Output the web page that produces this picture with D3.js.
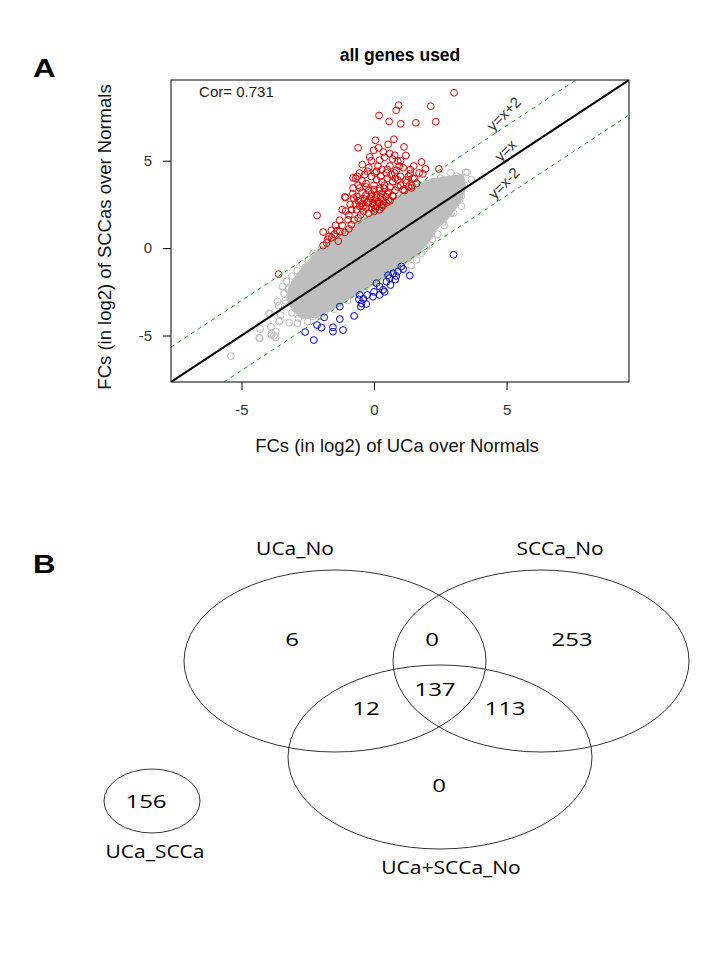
<!DOCTYPE html>
<html><head><meta charset="utf-8">
<script src="https://cdn.jsdelivr.net/npm/d3@7"></script>
<style>body{margin:0;background:#fff}</style>
</head><body>
<svg id="c" width="720" height="960"></svg>
<script>
// ---------------- DATA ----------------
const axisDomain = [-7.66, 9.62];
const xTicks = [-5, 0, 5];
const yTicks = [-5, 0, 5];
const plotTitle = "all genes used";
const xTitle = "FCs (in log2) of UCa over Normals";
const yTitle = "FCs (in log2) of SCCas over Normals";
const corText = "Cor= 0.731";

// outline of the dense (saturated) cloud of grey points
const grayCloud = [[-3.2,-2.9],[-3.0,-3.5],[-2.7,-3.9],[-2.2,-3.85],[-1.5,-3.3],[-0.7,-2.55],[0.0,-1.95],[0.7,-1.25],[1.2,-0.75],[1.6,-0.3],[2.0,0.4],[2.3,1.15],[2.75,1.8],[3.2,2.7],[3.4,3.5],[3.3,4.1],[2.85,4.0],[2.2,3.85],[1.6,3.5],[1.0,2.95],[0.4,2.35],[-0.3,1.65],[-1.0,0.95],[-1.7,0.2],[-2.2,-0.4],[-2.6,-1.1],[-2.9,-1.7],[-3.15,-2.3]];

const grayPoints = [[-5.40,-6.18],[-4.33,-5.13],[-4.30,-4.63],[-3.89,-4.50],[-3.87,-4.88],[-3.71,-4.78],[-3.71,-5.11],[-3.92,-3.77],[-3.64,-3.06],[-3.33,-3.16],[-3.20,-2.29],[-3.58,-4.21],[-3.20,-4.27],[-2.89,-4.30],[-3.52,-3.83],[-3.97,-3.73],[-3.77,-5.01],[-3.55,-4.15],[-3.24,-2.35],[-2.46,-0.67],[-3.0,-2.0],[-2.8,-1.6],[-2.6,-1.1],[-3.4,-2.6],[-3.6,-3.3],[-2.7,-3.8],[-2.5,-4.2],[-2.0,-3.9],[-1.5,-3.5],[-1.0,-3.0],[-4.31,-5.16],[-3.87,-4.97],[-2.9,-1.3],[-2.7,-0.9],[-3.3,-1.9],[-2.3,-0.3],[-2.0,-0.1],[-3.35,-3.0],[-3.1,-3.7],[-2.85,-4.0],[-3.45,-2.2],[-3.1,-1.6],
[3.46,4.34],[3.11,4.11],[3.17,3.73],[3.11,3.44],[2.98,3.25],[3.23,2.77],[2.48,1.81],[2.29,1.24],[2.10,0.67],[1.97,0.09],[1.79,-0.29],[1.60,-0.67],[2.16,3.25],[2.35,3.44],[3.51,4.34],[3.67,3.92],[2.60,3.25],[2.8,3.9],[2.5,4.0],[2.0,3.7],[2.7,2.2],[2.9,2.0],[2.6,1.5],[2.2,0.5],[1.4,-1.0],[1.2,-1.3],[3.3,3.0],[3.4,3.6],[1.9,-0.05],[2.1,0.2],[2.4,0.8],[2.65,1.3],[3.0,2.0],[3.3,2.4],[2.9,4.3],
[-1.6,0.2],[-1.3,0.6],[-1.0,0.9],[-0.5,1.4],[0.0,1.9],[0.5,2.3],[1.0,2.8],[1.5,3.3],
[-0.8,-2.6],[-0.3,-2.2],[0.3,-1.6],[0.8,-1.1],[1.0,-0.7],[-1.8,-3.5],[-2.3,-3.9]];

const redPoints = [[3.02,8.89],[0.93,8.18],[0.84,7.89],[2.14,8.12],[0.19,7.59],[0.57,7.25],[1.01,7.11],[1.58,7.17],[2.33,7.23],
[-0.60,5.74],[0.75,6.23],[0.05,6.17],[0.53,5.94],[1.13,5.79],[0.17,5.74],[-0.01,5.60],[0.59,5.41],[0.78,5.31],[-0.16,5.22],[0.21,5.03],[0.90,4.97],[-0.44,4.78],[1.79,4.93],[1.94,4.53],[1.37,4.49],[2.45,4.53],[1.37,4.26],[1.53,3.99],[-0.69,3.99],[-0.79,3.44],[-1.10,2.93],[-0.77,2.87],[1.84,4.25],[1.47,3.99],[1.43,3.57],[-0.63,4.11],
[-2.15,1.87],[-1.92,0.92],[-1.61,1.01],[-1.70,0.67],[-1.29,0.95],[-1.08,2.89],[-1.07,2.12],[-0.98,1.62],[-0.85,1.34],[-0.66,2.20],[-0.79,4.02],[-0.54,3.44],[-0.35,4.21],[0.03,4.30],[0.47,4.30],[0.78,4.30],[1.22,3.73],[1.41,3.44],[1.09,3.34],[0.72,2.96],[0.47,2.58],[-0.60,1.72],[-0.41,2.39],[-3.60,-1.49],[-1.79,0.29],[-1.92,0.15],
[-0.3,3.7],[0.1,3.9],[0.4,3.6],[0.7,3.8],[1.0,4.1],[-0.2,4.6],[0.3,4.5],[0.6,4.7],[0.9,3.5],[1.2,3.9],[-0.45,3.2],[0.2,3.4],[0.55,3.2],[0.85,4.45],[0.4,5.2],[-0.1,5.0],[1.1,4.6],[0.25,4.1],[-0.6,3.6],[-0.9,2.5],[-1.3,1.6],[-1.45,1.3],[-1.2,2.2],[-1.6,0.6],[-1.35,0.4],[-1.1,0.9],[-0.95,1.1],[-0.75,1.6],[-0.5,1.9],[1.3,3.5],[1.6,3.7],
[-0.8,3.1],[-0.65,2.95],[-0.5,2.75],[-0.7,2.5],[-0.85,2.2],[-0.95,1.9],[-1.2,1.3],[-1.4,1.0],[-1.5,0.8],[-1.75,0.5],[-0.3,3.5],[0.0,3.6],[0.3,3.8],[0.6,3.5],[0.8,3.3],[1.0,3.6],[0.5,4.0],[0.8,4.0],[-0.1,4.1],[0.15,4.7],[0.5,4.5],[0.7,5.1],[1.0,5.0],[1.3,4.1],[1.7,4.3],[1.5,4.7],[1.2,5.3],[0.35,5.5],[0.9,3.9],[1.15,3.3],[-0.45,3.85],[-0.25,4.4],[0.65,4.2],[0.95,4.7],[0.1,4.4],[-0.55,4.3],
[-0.4,2.1],[-0.2,2.0],[0.0,2.1],[0.2,2.2],[0.35,2.45],[-0.3,2.3],[-0.1,2.3],[0.1,2.4],[0.3,2.5],[-0.45,2.55],[-0.25,2.6],[-0.05,2.55],[0.15,2.65],[0.35,2.7],[0.55,2.75],[-0.35,2.8],[-0.15,2.85],[0.05,2.8],[0.25,2.9],[0.45,2.95],[-0.3,3.05],[-0.1,3.1],[0.1,3.05],[0.3,3.15],[0.5,3.1],[-0.2,3.3],[0.0,3.35],[0.2,3.3],[0.4,3.4],[0.7,3.0],[0.6,2.7],[-0.55,2.4],[-0.6,2.7],[0.0,2.45],[0.1,2.9],[-0.2,2.7],[0.2,2.6],[-0.1,2.95],[0.3,2.35],[0.05,2.25]];

const bluePoints = [[3.00,-0.38],[1.35,-1.57],[1.03,-1.05],[0.90,-1.34],[0.72,-1.44],[0.59,-1.72],[0.47,-1.92],[0.62,-2.11],[0.21,-2.20],[0.34,-2.39],[0.21,-2.68],[-0.04,-2.78],[-0.26,-2.68],[-0.54,-2.68],[-0.57,-2.93],[-0.47,-3.16],[-0.29,-3.20],[-0.50,-3.35],[-1.29,-3.35],[-0.75,-3.88],[-1.29,-4.06],[-1.88,-3.96],[-2.15,-4.40],[-1.98,-4.55],[-1.55,-4.53],[-1.55,-4.78],[-1.17,-4.69],[-2.60,-4.80],[-2.27,-5.26],[0.84,-1.59],[0.53,-1.55],[0.09,-2.01],[1.1,-1.2],[0.8,-1.8],[0.4,-2.5],[-0.4,-2.9],[0.0,-2.5]];

const refIntercepts = [2, 0, -2];
const refLabels = ["y=x+2", "y=x", "y=x-2"];
const refLabelPos = [[4.89,7.70],[4.95,5.60],[4.89,3.73]];

const vennSetLabels = ["UCa_No", "SCCa_No", "UCa+SCCa_No", "UCa_SCCa"];
// regions: UCa only, UCa∩SCCa only, SCCa only, UCa∩both-No, all three, SCCa∩both-No, both-No only, UCa_SCCa
const vennRegionCounts = [6, 0, 253, 12, 137, 113, 0, 156];

// ---------------- LAYOUT ----------------
const svg = d3.select("#c");
svg.append("rect").attr("width",720).attr("height",960).attr("fill","#fff");
const L = 171, R = 629, T = 80, B = 382;
const x = d3.scaleLinear().domain(axisDomain).range([L, R]);
const y = d3.scaleLinear().domain(axisDomain).range([B, T]);
const arial = "'Liberation Sans', Arial, sans-serif";

function panelLetter(t, px, py){
  svg.append("text").attr("transform",`translate(${px},${py}) scale(1.2,1)`)
    .attr("font-family",arial).attr("font-weight","bold").attr("font-size",26)
    .attr("fill","#000").text(t);
}
panelLetter("A", 33, 77);
panelLetter("B", 33, 573);

svg.append("text").attr("x",400).attr("y",61).attr("text-anchor","middle")
  .attr("font-family",arial).attr("font-weight","bold").attr("font-size",17.5).text(plotTitle);

const defs = svg.append("defs");
defs.append("clipPath").attr("id","clip").append("rect")
  .attr("x",L).attr("y",T).attr("width",R-L).attr("height",B-T);
const plot = svg.append("g").attr("clip-path","url(#clip)");

plot.append("path").datum(grayCloud)
  .attr("d", d3.line().x(d=>x(d[0])).y(d=>y(d[1])).curve(d3.curveLinearClosed))
  .attr("fill","#bebebe").attr("stroke","#bebebe").attr("stroke-width",5).attr("stroke-linejoin","round");

function pts(data, color){
  plot.append("g").selectAll("circle").data(data).join("circle")
    .attr("cx",d=>x(d[0])).attr("cy",d=>y(d[1])).attr("r",3.4)
    .attr("fill","none").attr("stroke",color).attr("stroke-width",1);
}
pts(grayPoints, "#bebebe");
pts(redPoints, "#e00000");
pts(bluePoints, "#0000cc");

refIntercepts.forEach((b,i)=>{
  const x0 = Math.max(axisDomain[0], axisDomain[0]-b), x1 = Math.min(axisDomain[1], axisDomain[1]-b);
  plot.append("line").attr("x1",x(x0)).attr("y1",y(x0+b)).attr("x2",x(x1)).attr("y2",y(x1+b))
    .attr("stroke", b===0 ? "#000" : "#1fa31f")
    .attr("stroke-width", b===0 ? 2 : 1)
    .attr("stroke-dasharray", b===0 ? null : "4,4");
});
refLabels.forEach((t,i)=>{
  svg.append("text").attr("transform",`translate(${x(refLabelPos[i][0])},${y(refLabelPos[i][1])}) rotate(-45)`)
    .attr("text-anchor","middle").attr("dominant-baseline","central")
    .attr("font-family",arial).attr("font-size",15).attr("fill","#333").text(t);
});

svg.append("text").attr("x",x(-6.6)).attr("y",97).attr("font-family",arial)
  .attr("font-size",15).attr("fill","#222").text(corText);

svg.append("rect").attr("x",L).attr("y",T).attr("width",R-L).attr("height",B-T)
  .attr("fill","none").attr("stroke","#000").attr("stroke-width",1);

const xa = svg.append("g").attr("transform",`translate(0,${B})`)
  .call(d3.axisBottom(x).tickValues(xTicks).tickSize(8).tickPadding(14).tickFormat(d3.format("d")));
const ya = svg.append("g").attr("transform",`translate(${L},0)`)
  .call(d3.axisLeft(y).tickValues(yTicks).tickSize(8).tickPadding(11).tickFormat(d3.format("d")));
[xa,ya].forEach(a=>{
  a.select(".domain").remove();
  a.selectAll("text").attr("font-family",arial).attr("font-size",15).attr("fill","#333");
  a.selectAll("line").attr("stroke","#000");
});
ya.selectAll("text").text(d=>d<0?"-"+Math.abs(d):d);
xa.selectAll("text").text(d=>d<0?"-"+Math.abs(d):d);

svg.append("text").attr("x",397).attr("y",452).attr("text-anchor","middle")
  .attr("font-family",arial).attr("font-size",18.5).attr("fill","#111").text(xTitle);
svg.append("text").attr("transform",`translate(111,237) rotate(-90)`).attr("text-anchor","middle")
  .attr("font-family",arial).attr("font-size",18.5).attr("fill","#111").text(yTitle);

// ---------------- VENN ----------------
const ellipses = [
  {cx:335, cy:661, rx:151, ry:91},
  {cx:541, cy:661, rx:148, ry:91},
  {cx:440, cy:757, rx:152, ry:92},
  {cx:152, cy:801, rx:48, ry:32}
];
const venn = svg.append("g");
venn.selectAll("ellipse").data(ellipses).join("ellipse")
  .attr("cx",d=>d.cx).attr("cy",d=>d.cy).attr("rx",d=>d.rx).attr("ry",d=>d.ry)
  .attr("fill","none").attr("stroke","#333").attr("stroke-width",1);

const vfont = "'Open Sans', 'Noto Sans', sans-serif";
const setLabelPos = [[295,555],[560,555],[451,874],[155,858]];
vennSetLabels.forEach((t,i)=>{
  venn.append("text").attr("transform",`translate(${setLabelPos[i][0]},${setLabelPos[i][1]}) scale(1.2,1)`)
    .attr("text-anchor","middle").attr("font-family",vfont).attr("font-size",17.5).attr("fill","#000").text(t);
});
const countPos = [[292,646],[432,646],[572,646],[366,715],[435,696],[505,715],[439,792],[146,808]];
vennRegionCounts.forEach((c,i)=>{
  venn.append("text").attr("transform",`translate(${countPos[i][0]},${countPos[i][1]}) scale(1.3,1)`)
    .attr("text-anchor","middle").attr("font-family",vfont).attr("font-size",18.5).attr("fill","#000").text(c);
});
</script>
</body></html>
